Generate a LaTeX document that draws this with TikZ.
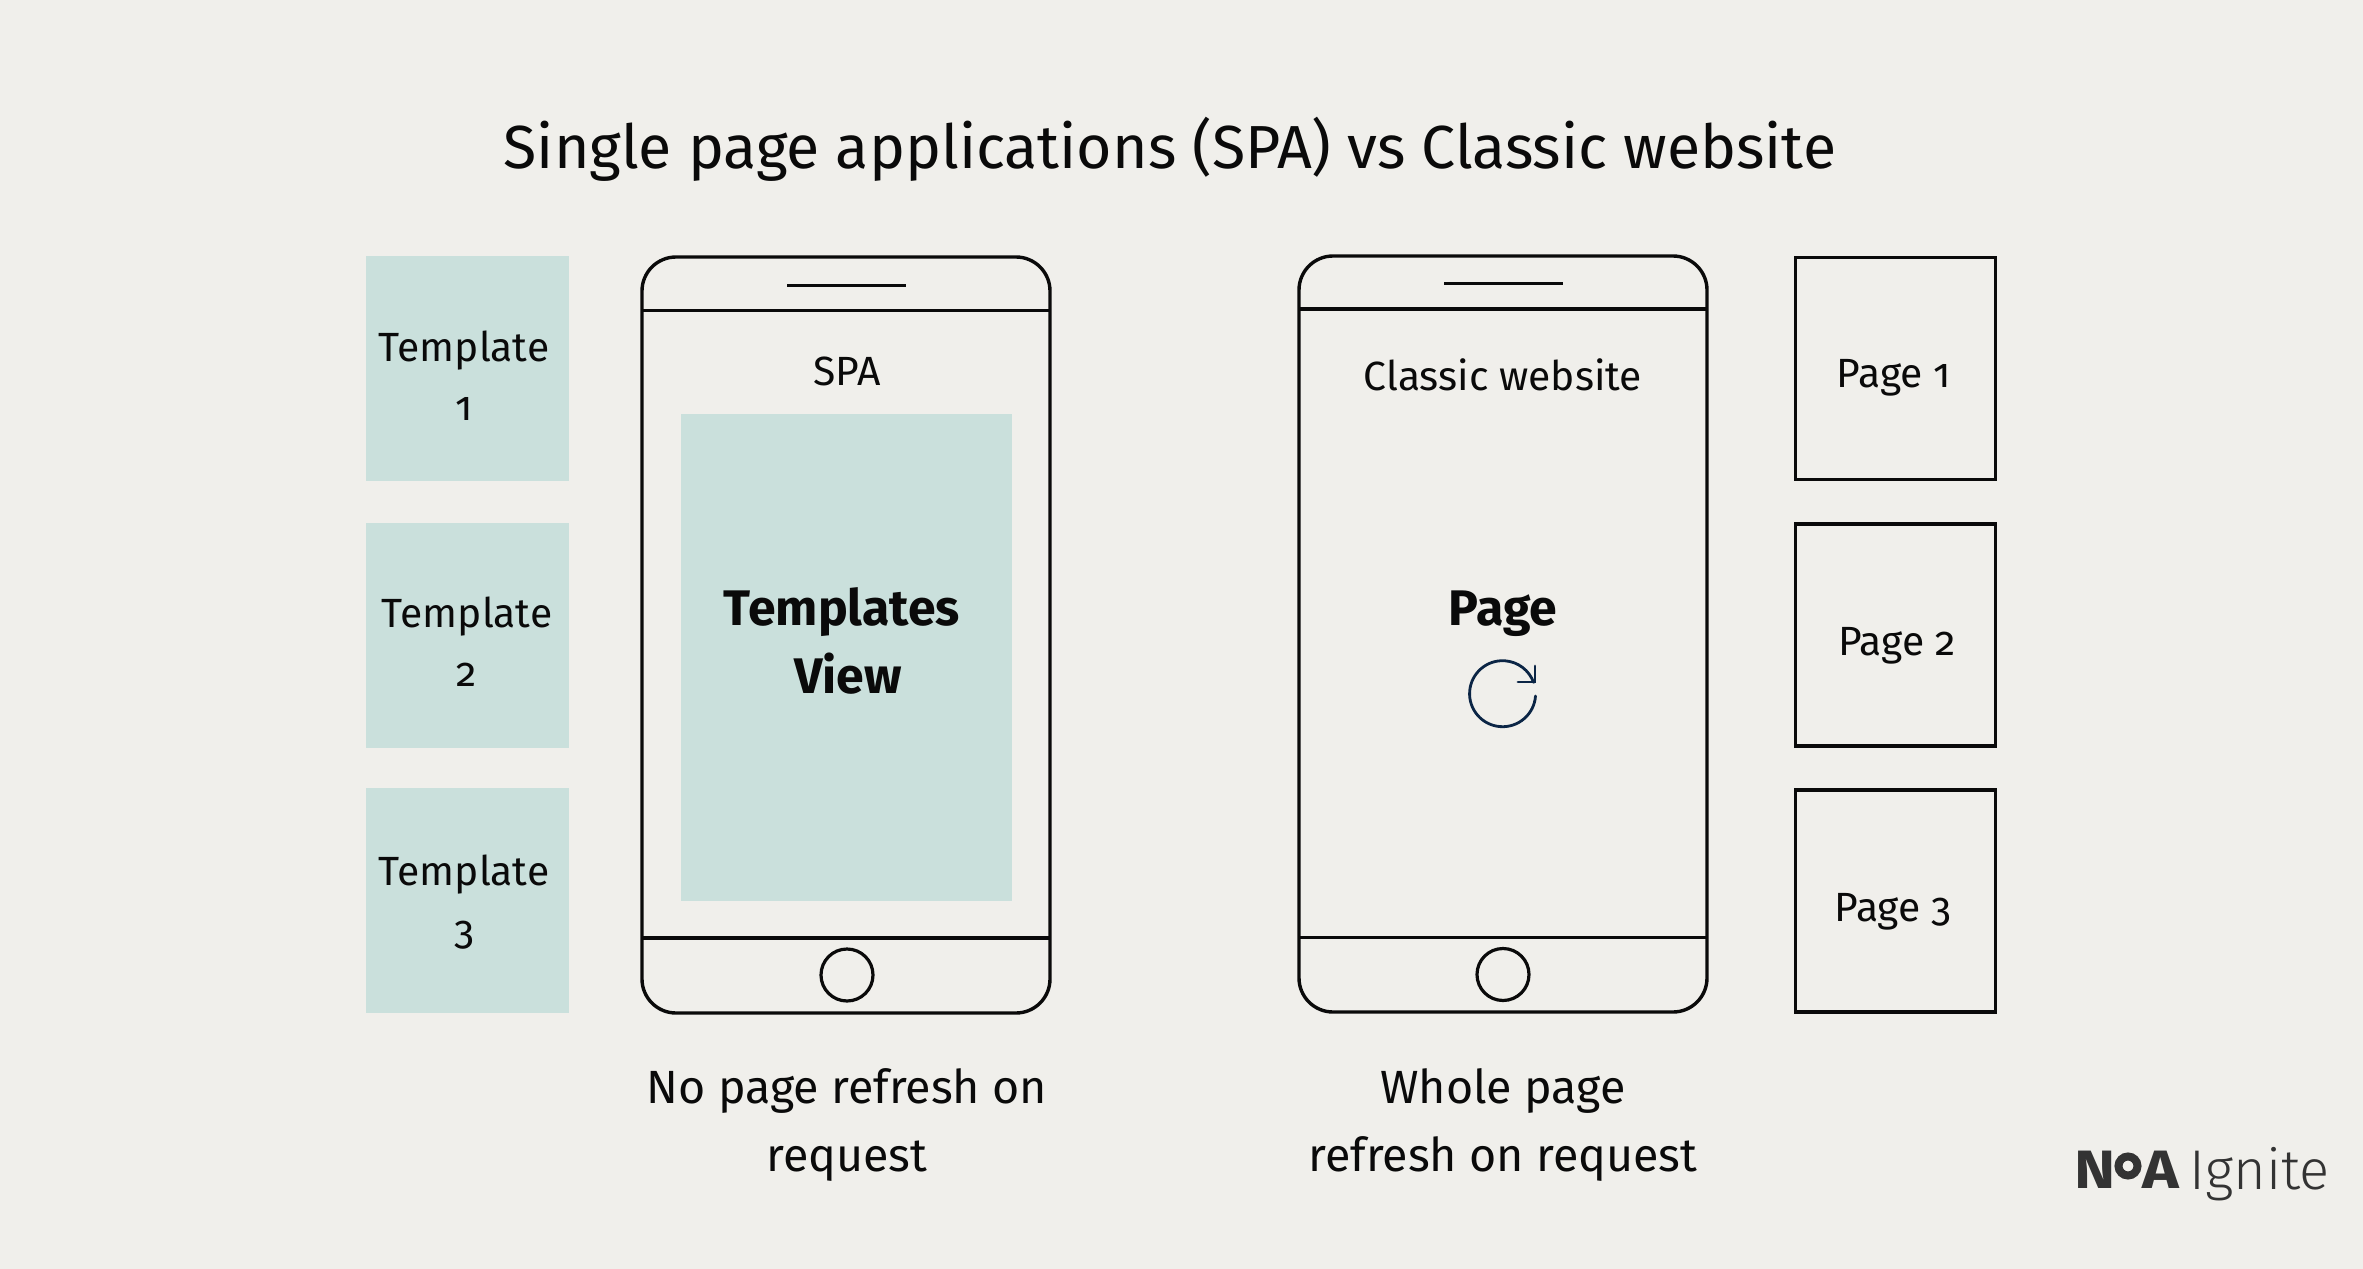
\documentclass[tikz,border=0pt]{standalone}
\usepackage{fontspec}
\setmainfont{Fira Sans}[BoldFont=* Bold,Numbers=OldStyle]
\newfontfamily\logofont{Fira Sans}[UprightFont=* Light,BoldFont=* Bold]
\usetikzlibrary{positioning,arrows.meta}
\definecolor{paper}{HTML}{F0EFEB}
\definecolor{mint}{HTML}{CAE0DC}
\definecolor{ink}{HTML}{0A0A0A}
\definecolor{navy}{HTML}{0B2545}
\definecolor{logogrey}{HTML}{333333}

\begin{document}
\begin{tikzpicture}[x=0.5pt, y=-0.5pt,
  tmpl/.style={fill=mint, minimum width=101.5pt, minimum height=112.5pt, inner sep=0pt, outer sep=0pt},
  pagebox/.style={draw=ink, line width=1.6pt, minimum width=100pt, minimum height=111pt, inner sep=0pt, outer sep=0pt},
  phone/.style={draw=ink, line width=1.7pt, rounded corners=17pt, minimum width=204pt, minimum height=378pt, inner sep=0pt, outer sep=0pt},
  rule/.style={draw=ink, line width=1.6pt},
  lbl/.style={text=ink, align=center, inner sep=0pt, font=\fontsize{20.4}{29.5}\selectfont},
  capt/.style={text=ink, align=center, inner sep=0pt, font=\fontsize{23.3}{34}\selectfont},
  bigb/.style={text=ink, align=center, inner sep=0pt, font=\fontsize{25}{34}\selectfont\bfseries}]
  \fill[paper] (0,0) rectangle (2363,1269);
  \useasboundingbox (0,0) rectangle (2363,1269);
  \node[text=ink, inner sep=0pt, font=\fontsize{30.4}{36}\selectfont] (title) at (1170,149) {Single page applications (SPA) vs Classic website};
  % left side
  \node[tmpl] (t1) at (467.8,368.5) {};
  \node[tmpl] (t2) at (467.8,635) {};
  \node[tmpl] (t3) at (467.8,900.5) {};
  \node[lbl] (t1l) at (464,375.5) {Template\\1};
  \node[lbl] (t2l) at (467,641.5) {Template\\2};
  \node[lbl] (t3l) at (464,902) {Template\\3};
  \node[phone] (spa) at (846,635) {};
  \draw[rule] (spa.west |- 0,310.5) -- (spa.east |- 0,310.5);
  \draw[rule] (spa.west |- 0,938) -- (spa.east |- 0,938);
  \draw[rule] (787,285.5) coordinate (spae) -- (906,285.5) coordinate (spaf);
  \node[draw=ink, line width=1.6pt, circle, minimum size=26pt, inner sep=0pt] (spah) at (847,975) {};
  \node[fill=mint, minimum width=165.5pt, minimum height=243.5pt, inner sep=0pt] (spav) at (846.5,657.5) {};
  \node[lbl] (spal) at (847,371) {SPA};
  \node[bigb] (spat) at (842,641) {Templates\\\hspace*{6pt}View};
  \node[capt] (spac) at (847,1125) {No page refresh on\\request};
  % right side
  \node[phone] (cls) at (1503,634) {};
  \draw[rule] (cls.west |- 0,309) -- (cls.east |- 0,309);
  \draw[rule] (cls.west |- 0,937.5) -- (cls.east |- 0,937.5);
  \draw[rule] (1444,283.5) coordinate (clse) -- (1563,283.5) coordinate (clsf);
  \node[draw=ink, line width=1.6pt, circle, minimum size=26pt, inner sep=0pt] (clsh) at (1503,974.5) {};
  \node[lbl] (clsl) at (1503,375) {Classic website};
  \node[bigb] (clst) at (1503,614) {Page};
  \draw[navy, line width=1.4pt, line cap=round] (1535.5,696) arc[start angle=-4, end angle=-340, radius=16.5pt];
  \draw[navy, line width=1.4pt, line cap=round] (1518,682) -- (1535,682) -- (1535,666);
  \node[capt] (clsc) at (1503,1125) {Whole page\\refresh on request};
  \node[pagebox] (p1) at (1895.5,368.5) {};
  \node[pagebox] (p2) at (1895.5,635) {};
  \node[pagebox] (p3) at (1895.5,901) {};
  \node[lbl] (p1l) at (1894,378) {Page 1};
  \node[lbl] (p2l) at (1897,646) {Page 2};
  \node[lbl] (p3l) at (1893,912) {Page 3};
  % logo
  \node[anchor=base west, inner sep=0pt, text=logogrey, font=\logofont\bfseries\fontsize{27}{30}\selectfont] (nn) at (2074,1188) {\scalebox{1.15}[1]{N}};
  \node[draw=logogrey, line width=4pt, circle, minimum size=9.5pt, inner sep=0pt] (no) at (2128,1166) {};
  \node[anchor=base east, inner sep=0pt, text=logogrey, font=\logofont\bfseries\fontsize{27}{30}\selectfont] (na) at (2180,1188) {\scalebox{1.15}[1]{A}};
  \node[anchor=base west, inner sep=0pt, text=logogrey, font=\logofont\fontsize{28}{30}\selectfont] (ig) at (2189,1189) {Ignite};
\end{tikzpicture}
\end{document}
